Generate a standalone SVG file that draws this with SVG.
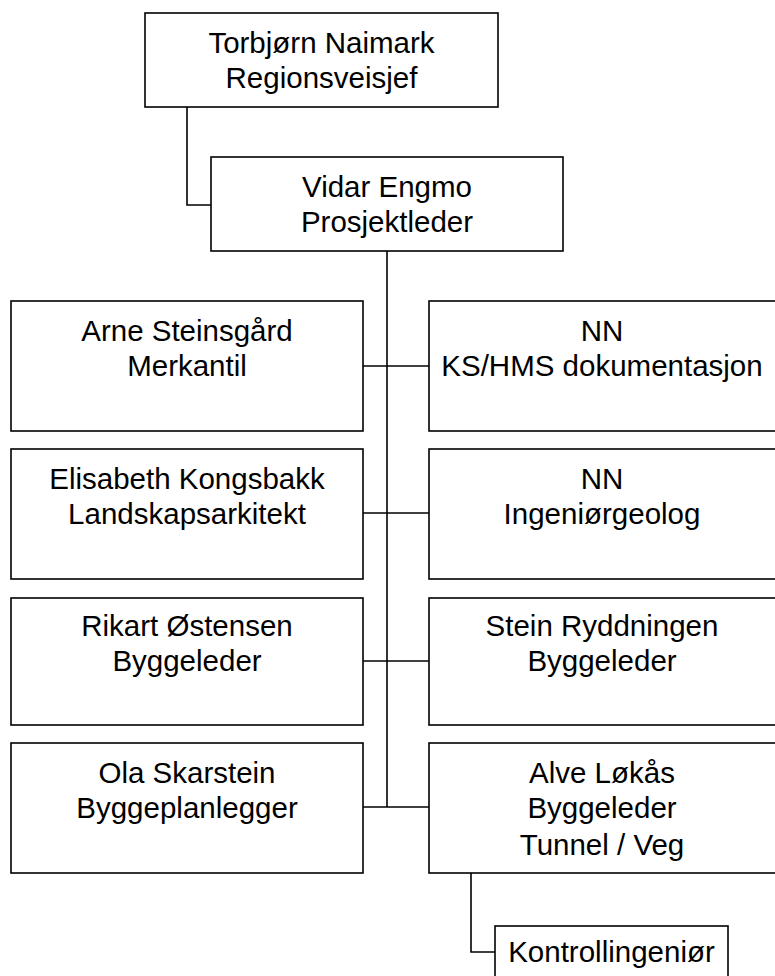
<svg xmlns="http://www.w3.org/2000/svg" width="775" height="976" viewBox="0 0 775 976">
<style>
.box{fill:#fff;stroke:#000;stroke-width:1.6}
.ln{fill:none;stroke:#000;stroke-width:1.6}
text{font-family:"Liberation Sans",Arial,sans-serif;font-size:29.5px;fill:#000;text-anchor:middle}
</style>
<rect width="775" height="976" fill="#fff"/>
<g id="connectors">
<path class="ln" d="M187 107V205H211"/>
<path class="ln" d="M387 251V807"/>
<path class="ln" d="M363 366H429"/>
<path class="ln" d="M363 513H429"/>
<path class="ln" d="M363 661H429"/>
<path class="ln" d="M363 807H429"/>
<path class="ln" d="M471 873V952H495"/>
</g>
<g id="n-torbjorn"><rect class="box" x="145" y="13" width="353" height="94"/><text x="321.5" y="53">Torbjørn Naimark</text><text x="321.5" y="88">Regionsveisjef</text></g>
<g id="n-vidar"><rect class="box" x="211" y="157" width="352" height="94"/><text x="387" y="197">Vidar Engmo</text><text x="387" y="232">Prosjektleder</text></g>
<g id="n-arne"><rect class="box" x="11" y="301" width="352" height="130"/><text x="187" y="341">Arne Steinsgård</text><text x="187" y="376">Merkantil</text></g>
<g id="n-nn-ks"><rect class="box" x="429" y="301" width="347" height="130"/><text x="602" y="341">NN</text><text x="602" y="376">KS/HMS dokumentasjon</text></g>
<g id="n-elisabeth"><rect class="box" x="11" y="449" width="352" height="130"/><text x="187" y="489">Elisabeth Kongsbakk</text><text x="187" y="524">Landskapsarkitekt</text></g>
<g id="n-nn-geo"><rect class="box" x="429" y="449" width="347" height="130"/><text x="602" y="489">NN</text><text x="602" y="524">Ingeniørgeolog</text></g>
<g id="n-rikart"><rect class="box" x="11" y="598" width="352" height="127"/><text x="187" y="636">Rikart Østensen</text><text x="187" y="671">Byggeleder</text></g>
<g id="n-stein"><rect class="box" x="429" y="598" width="347" height="127"/><text x="602" y="636">Stein Ryddningen</text><text x="602" y="671">Byggeleder</text></g>
<g id="n-ola"><rect class="box" x="11" y="743" width="352" height="130"/><text x="187" y="783">Ola Skarstein</text><text x="187" y="818">Byggeplanlegger</text></g>
<g id="n-alve"><rect class="box" x="429" y="743" width="347" height="130"/><text x="602" y="783">Alve Løkås</text><text x="602" y="818">Byggeleder</text><text x="602" y="855">Tunnel / Veg</text></g>
<g id="n-kontroll"><rect class="box" x="495" y="926" width="233" height="60"/><text x="611.5" y="962">Kontrollingeniør</text></g>
</svg>
